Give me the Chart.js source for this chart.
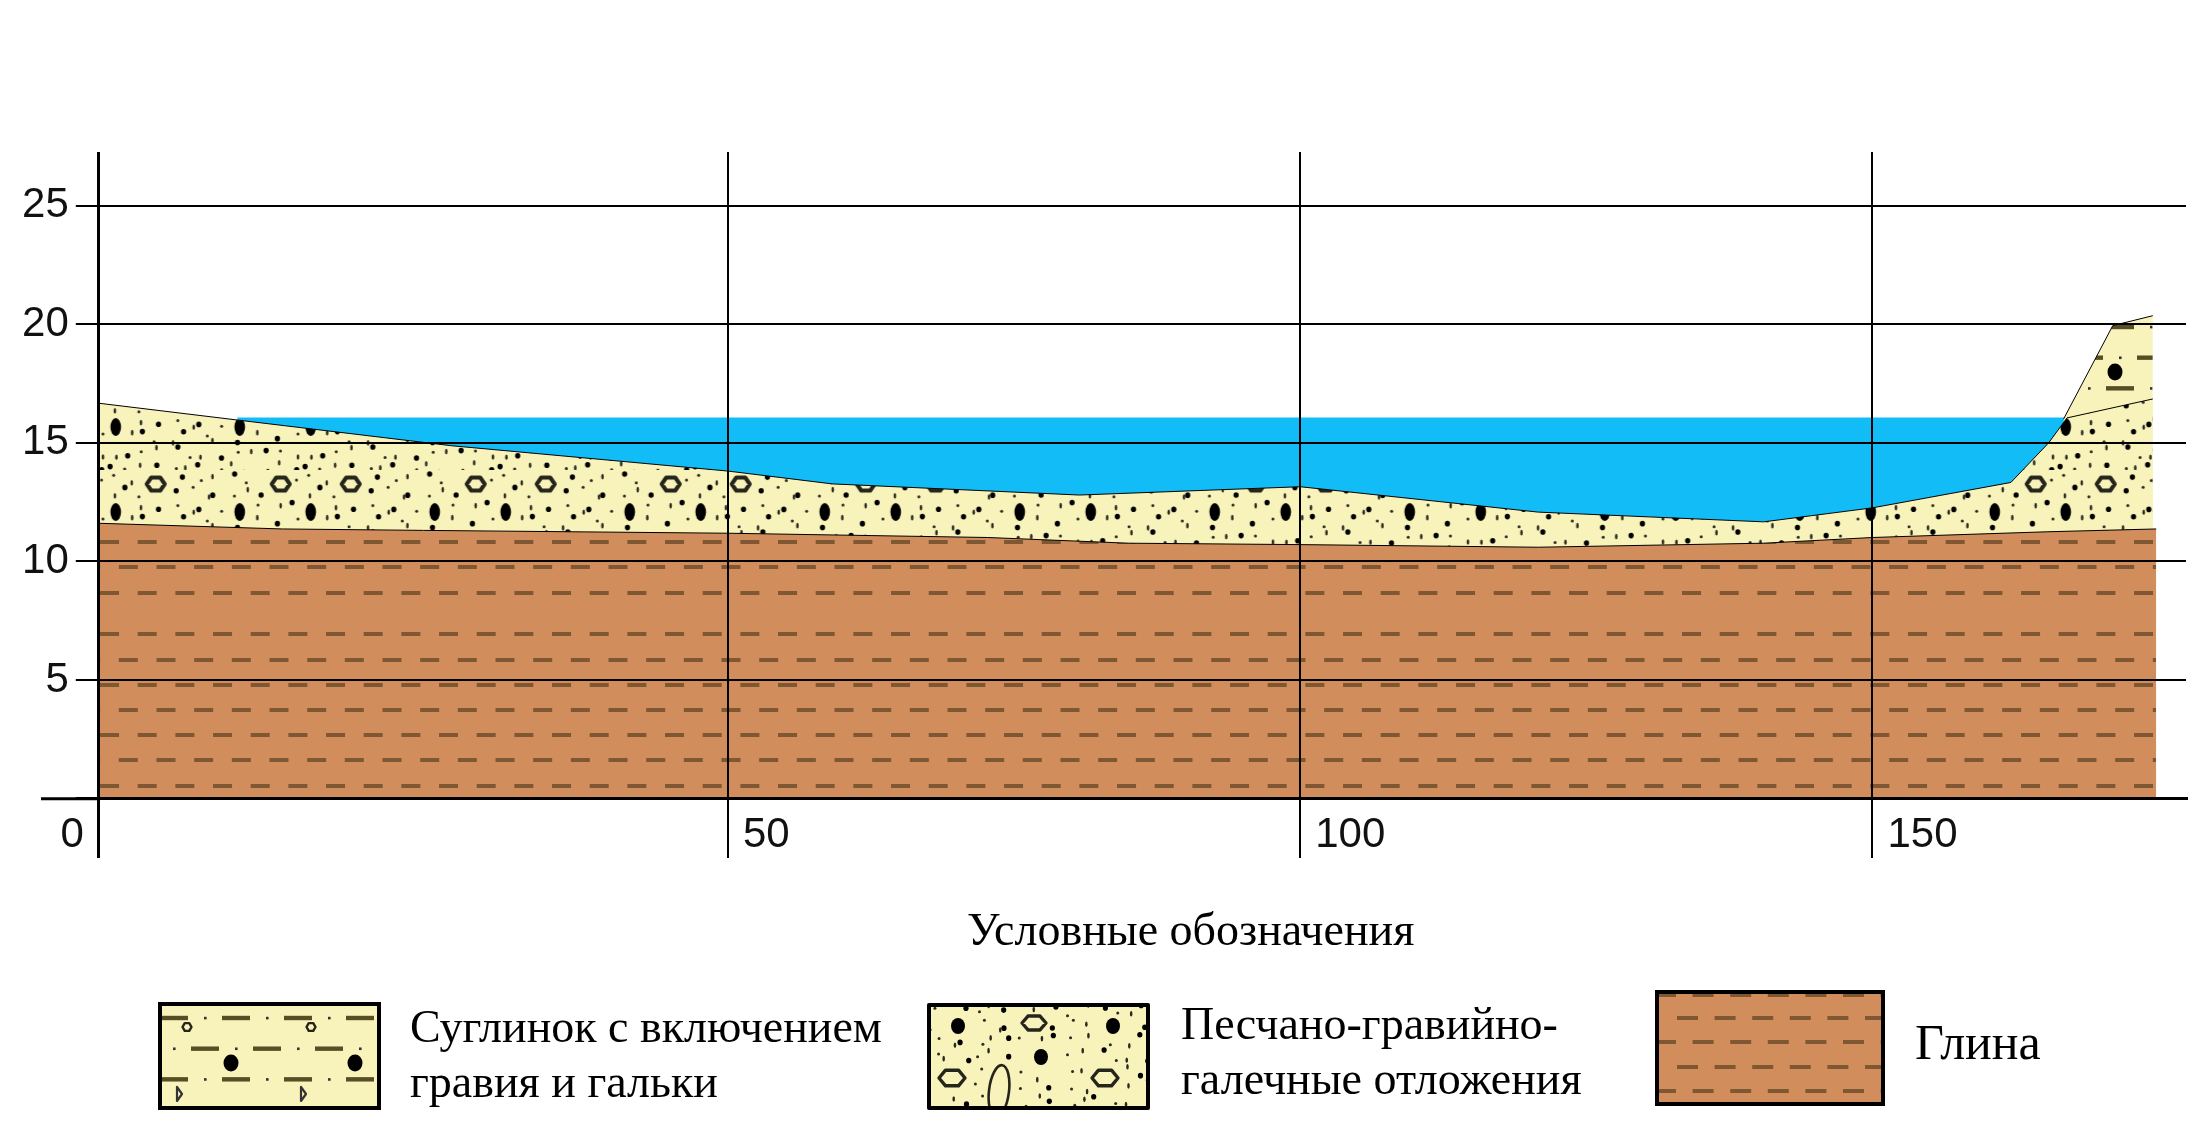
<!DOCTYPE html>
<html lang="ru"><head><meta charset="utf-8">
<script src="https://cdn.jsdelivr.net/npm/chart.js@4"></script>
<style>
html,body{margin:0;padding:0;background:#fff;width:2201px;height:1132px;overflow:hidden}
#wrap{position:relative;width:2201px;height:1132px}
#c{position:absolute;left:0;top:0}
.t{position:absolute;white-space:nowrap;font-family:"Liberation Serif",serif;color:#000;line-height:1;transform:translateY(-50%)}
.sw{position:absolute}
</style></head><body>
<div id="wrap"><canvas id="c" width="2201" height="1132"></canvas></div>
<script>
// ---- data ----
const xTicks=[0,50,100,150];
const yTicks=[0,5,10,15,20,25];
const clayX=[0,14.6,25.8,50,72.7,85,100,120.8,140.5,150,165.2,174.8];
const clayY=[11.61,11.37,11.31,11.19,11.01,10.77,10.71,10.6,10.77,11.01,11.25,11.37];
const sandX=[0,11.2,28,50,59.1,80.7,100,120.8,140.5,150,162.1,165.4,167,174.5];
const sandY=[16.67,15.95,14.88,13.81,13.27,12.8,13.15,12.08,11.67,12.26,13.33,15,16.05,16.85];
const loamX=[166.7,171,174.5];
const loamY=[16,19.94,20.36];
const waterX=[11,166.8];
const waterY=[16.07,16.07];
const clayRows=[542,567,593,634,660,685,710,735,760,786];
const legendTitle="Условные обозначения";
const legendItems=[["Суглинок с включением","гравия и гальки"],["Песчано-гравийно-","галечные отложения"],["Глина"]];
// ---- colours ----
const SAND="#F8F2BB",CLAY="#D18D5C",DASH="#7F5833",WATER="#12BDF7";

// axis: the 0–50 stretch is drawn wider than the rest in the original
const X_KNOT=50,X_KNOT_FRAC=(728-98.8)/(2186-98.8);
class GeoScale extends Chart.LinearScale{
  static id='geo';
  static defaults=Chart.LinearScale.defaults;
  getPixelForValue(v){
    if(v===null||v===undefined)return NaN;
    const d=v<=X_KNOT?(v-this.min)/(X_KNOT-this.min)*X_KNOT_FRAC
      :X_KNOT_FRAC+(v-X_KNOT)/(this.max-X_KNOT)*(1-X_KNOT_FRAC);
    return this.getPixelForDecimal(d);
  }
  _computeLabelItems(ca){
    const items=super._computeLabelItems(ca);
    items.forEach(it=>{
      if(it.label==='0'){it.options.textAlign='right';it.options.translation[0]=this.getPixelForValue(0)-15;}
    });
    return items;
  }
}
Chart.register(GeoScale);

function mk(w,h){const c=document.createElement('canvas');c.width=w;c.height=h;return c;}
function oval(g,x,y,rx,ry){g.fillStyle='#000';g.beginPath();g.ellipse(x,y,rx,ry,0,0,7);g.fill();}
function ring(g,x,y,rx,ry,lw){g.strokeStyle='#26251c';g.lineWidth=lw||3;g.lineJoin='round';g.beginPath();
  for(let i=0;i<6;i++){const a=i*Math.PI/3;g.lineTo(x+rx*Math.cos(a),y+ry*Math.sin(a));}
  g.closePath();g.stroke();}
// fixed texture hash: gravel speckle only, not chart data
const h1=i=>{const s=Math.sin(i*127.1+3.7)*43758.5453;return s-Math.floor(s);};
const h2=i=>{const s=Math.sin(i*269.5+1.3)*24634.6345;return s-Math.floor(s);};
function sandDots(g,w,h,cell,skip){
  let i=0;
  for(let cy=0;cy*cell<h;cy++)for(let cx=0;cx*cell<w;cx++){
    i++;
    const x=(cx+0.1+0.8*h1(i))*cell,y=(cy+0.1+0.8*h2(i))*cell;
    if(skip&&skip(x,y))continue;
    const k=i%3;
    g.fillStyle=k===0?'#000':'#2a2a22';
    const a=k===0?2.6:(k===1?1.5:1.3),b=k===0?2.8:(k===1?1.5:2.8);
    g.beginPath();g.ellipse(x,y,a,b,0,0,7);g.fill();
  }
}
function sandPattern(ctx){
  const W=195,H=85,c=mk(W,H),g=c.getContext('2d');
  g.fillStyle=SAND;g.fillRect(0,0,W,H);
  const ov=[[10,42],[134,42]],ri=[[50,14],[175,14]];
  sandDots(g,W,H,15,(x,y)=>ov.concat(ri).some(p=>Math.abs(p[0]-x)<15&&Math.abs(p[1]-y)<13));
  ov.forEach(p=>oval(g,p[0],p[1],5.3,9));
  ri.forEach(p=>ring(g,p[0],p[1],9,7.5,4));
  const pat=ctx.createPattern(c,'repeat');
  pat.setTransform(new DOMMatrix().translate(115.7-10,512-42));
  return pat;
}
function loamTile(){
  const W=124,H=184,c=mk(W,H),g=c.getContext('2d');
  g.fillStyle=SAND;g.fillRect(0,0,W,H);
  for(let r=0;r<6;r++){
    const y=16+r*30.67,off=r%2?31:0;
    [0,62].forEach(dx=>{
      g.fillStyle='#574e25';
      g.fillRect((off+dx+2)%W,y-2.2,28,4.4);
      g.fillStyle='#333';
      g.fillRect((off+dx+46)%W,y-1.2,2.6,2.6);
    });
  }
  for(let r=0;r<2;r++){
    const y=r*92;
    ring(g,29,y+25,4.5,4.5,2.4);
    oval(g,73,y+61,7.5,8.5);
    g.strokeStyle='#333';g.lineWidth=2.2;
    g.beginPath();g.moveTo(19,y+85);g.lineTo(19,y+99);g.lineTo(24,y+92);g.closePath();g.stroke();
  }
  return c;
}
function clayPattern(ctx){
  const P=37.67,W=113,c=mk(W,1132),g=c.getContext('2d');
  g.fillStyle=CLAY;g.fillRect(0,0,W,1132);
  g.fillStyle=DASH;
  clayRows.forEach((y,r)=>{
    const odd=[1,4,6,8].includes(r);
    for(let i=-1;i<4;i++)g.fillRect(24.7+(odd?18.8:0)+i*P,y-2,19,4);
  });
  return ctx.createPattern(c,'repeat');
}

const xy=(X,Y)=>X.map((x,i)=>({x,y:Y[i]}));
const host=document.getElementById('c');
const ctx=host.getContext('2d');
const loamPat=ctx.createPattern(loamTile(),'repeat');
loamPat.setTransform(new DOMMatrix().translate(2042,311));
const base={borderColor:'#000',borderWidth:1,pointRadius:0,tension:0,fill:'origin'};

const stub={id:'stub',afterDraw(ch){
  const y=ch.scales.y.getPixelForValue(0),g=ch.ctx;
  g.save();g.strokeStyle='#000';g.lineWidth=3;g.beginPath();g.moveTo(41,y);g.lineTo(ch.chartArea.left,y);g.stroke();g.restore();
}};

new Chart(ctx,{
  type:'line',
  data:{datasets:[
    {...base,label:'Глина',data:xy(clayX,clayY),backgroundColor:clayPattern(ctx)},
    {...base,label:'Песчано-гравийно-галечные отложения',data:xy(sandX,sandY),backgroundColor:sandPattern(ctx)},
    {...base,label:'Суглинок с включением гравия и гальки',data:xy(loamX,loamY),backgroundColor:loamPat},
    {...base,label:'Вода',data:xy(waterX,waterY),backgroundColor:WATER,borderWidth:0},
  ]},
  plugins:[stub],
  options:{
    responsive:false,animation:false,
    layout:{padding:{top:152,left:0,right:15,bottom:274}},
    plugins:{legend:{display:false},tooltip:{enabled:false}},
    scales:{
      x:{type:'geo',position:{y:0},min:0,max:177.4,
        afterBuildTicks(s){s.ticks=xTicks.map(value=>({value}));},
        border:{display:true,color:'#000',width:3,z:1},
        grid:{z:1,color:'#000',drawTicks:false,lineWidth:c=>c.tick&&c.tick.value===0?3:2},
        ticks:{z:1,align:'start',labelOffset:15,padding:12,autoSkip:false,maxRotation:0,color:'#111',
          font:{family:'"Liberation Sans",Arial,sans-serif',size:42},callback:v=>String(v)}},
      y:{type:'linear',min:-2.5,max:27.26,
        afterBuildTicks(s){s.ticks=yTicks.map(value=>({value}));},
        afterFit(s){s.width=98.8;},
        border:{display:false},
        grid:{z:1,color:'#000',tickLength:23,lineWidth:c=>c.tick&&c.tick.value===0?3:2},
        ticks:{z:1,padding:7,color:'#111',autoSkip:false,
          font:{family:'"Liberation Sans",Arial,sans-serif',size:42},callback:v=>v===0?'':String(v)}}
    }
  }
});

// ---- legend ----
const wrap=document.getElementById('wrap');
function text(s,x,y,size){const d=document.createElement('div');d.className='t';d.textContent=s;
  d.style.left=x+'px';d.style.top=y+'px';d.style.fontSize=size+'px';wrap.appendChild(d);}
function swatch(x,y,w,h,draw){const c=mk(w,h);c.className='sw';c.style.left=x+'px';c.style.top=y+'px';
  const g=c.getContext('2d');draw(g,w,h);g.strokeStyle='#000';g.lineWidth=4;g.strokeRect(2,2,w-4,h-4);wrap.appendChild(c);}

text(legendTitle,967,930,46);
swatch(158,1002,223,108,(g,w,h)=>{
  g.fillStyle=g.createPattern(loamTile(),'repeat');g.fillRect(0,0,w,h);
});
text(legendItems[0][0],410,1027,46);text(legendItems[0][1],410,1082,46);
swatch(927,1003,223,107,(g,w,h)=>{
  g.fillStyle=SAND;g.fillRect(0,0,w,h);
  const big=[[31,23],[186,23],[114,54],[107,20],[25,75],[178,75]];
  sandDots(g,w,h,15,(x,y)=>big.some(p=>Math.abs(p[0]-x)<16&&Math.abs(p[1]-y)<13)||(Math.abs(x-72)<13&&y>58));
  oval(g,31,23,7,8);oval(g,186,23,7,8);oval(g,114,54,7,8);
  ring(g,107,20,12,8,3.4);ring(g,25,75,13,9,3.4);ring(g,178,75,13,9,3.4);
  g.strokeStyle='#26251c';g.lineWidth=2.6;g.beginPath();g.ellipse(72,88,10,26,0.12,0,7);g.stroke();
});
text(legendItems[1][0],1181,1024,46);text(legendItems[1][1],1181,1079,46);
swatch(1655,990,230,116,(g,w,h)=>{
  g.fillStyle=CLAY;g.fillRect(0,0,w,h);g.fillStyle=DASH;
  [5,28,52,77,101].forEach((y,r)=>{for(let i=0;i<7;i++)g.fillRect((r%2?22:0)+i*37.6,y-2,21,4);});
});
text(legendItems[2][0],1915,1042,50);
</script>
</body></html>
